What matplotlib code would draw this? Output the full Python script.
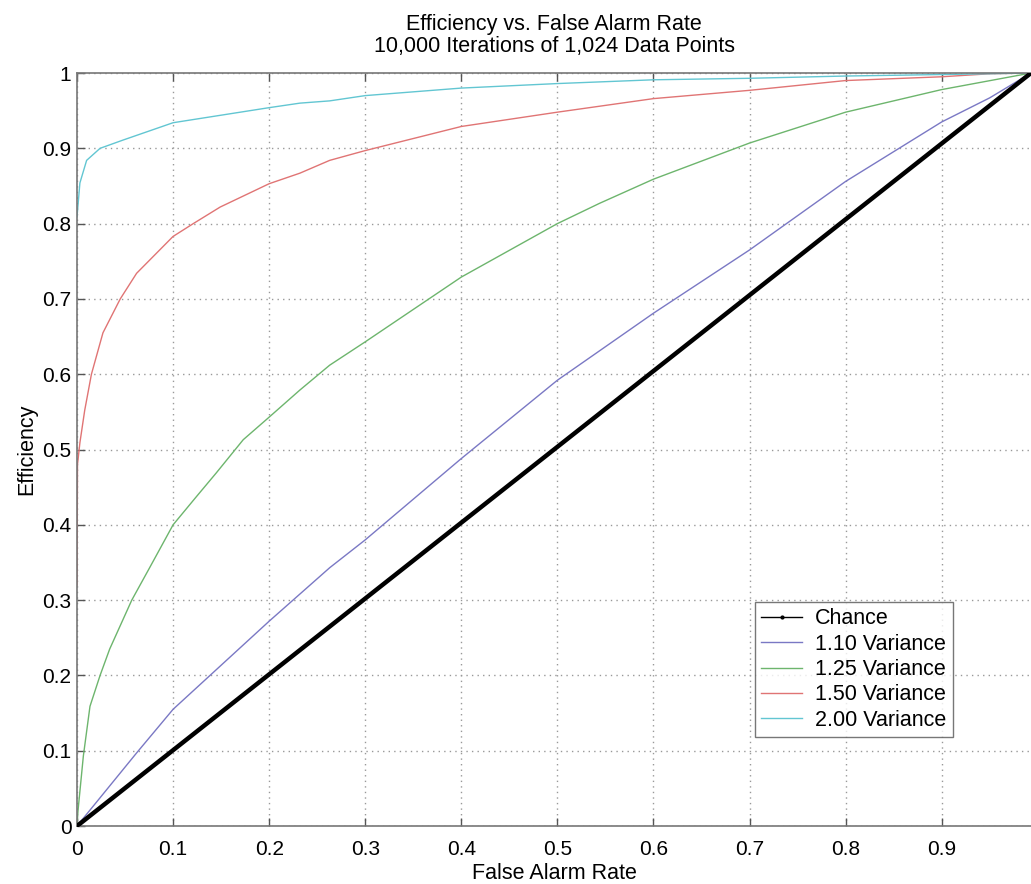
import matplotlib
matplotlib.use("Agg")
import matplotlib.pyplot as plt

# Values (curves end at the visible right edge)
chance_x = [0.0, 0.993]
chance_y = [0.0, 1.0]

v110_x = [0.0, 0.062, 0.1, 0.2, 0.263, 0.3, 0.4, 0.5, 0.6, 0.7, 0.8, 0.9, 0.95, 0.993]
v110_y = [0.0, 0.097, 0.155, 0.272, 0.343, 0.380, 0.488, 0.592, 0.681, 0.765, 0.856, 0.935, 0.967, 1.0]

v125_x = [0.0, 0.001, 0.0066, 0.0135, 0.024, 0.034, 0.057, 0.076, 0.1, 0.124, 0.145,
          0.173, 0.2, 0.232, 0.263, 0.3, 0.4, 0.5, 0.544, 0.6, 0.7, 0.8, 0.9, 0.993]
v125_y = [0.0, 0.02, 0.093, 0.159, 0.20, 0.235, 0.30, 0.344, 0.40, 0.437, 0.469,
          0.513, 0.543, 0.579, 0.612, 0.643, 0.729, 0.80, 0.827, 0.859, 0.907, 0.948, 0.978, 1.0]

v150_x = [0.0, 0.0005, 0.003, 0.008, 0.015, 0.027, 0.045, 0.062, 0.1, 0.121, 0.149,
          0.2, 0.232, 0.263, 0.3, 0.4, 0.5, 0.6, 0.7, 0.8, 0.9, 0.95, 0.993]
v150_y = [0.32, 0.48, 0.509, 0.552, 0.60, 0.655, 0.70, 0.734, 0.783, 0.80, 0.822,
          0.853, 0.867, 0.884, 0.897, 0.929, 0.948, 0.966, 0.977, 0.990, 0.995, 0.999, 1.0]

v200_x = [0.0, 0.003, 0.01, 0.024, 0.048, 0.1, 0.2, 0.232, 0.263, 0.3, 0.4, 0.5, 0.6,
          0.7, 0.8, 0.9, 0.993]
v200_y = [0.809, 0.854, 0.884, 0.90, 0.911, 0.934, 0.954, 0.960, 0.963, 0.970, 0.980,
          0.986, 0.991, 0.993, 0.996, 0.998, 1.0]

x_ticks = [0, 0.1, 0.2, 0.3, 0.4, 0.5, 0.6, 0.7, 0.8, 0.9]
x_tick_labels = ["0", "0.1", "0.2", "0.3", "0.4", "0.5", "0.6", "0.7", "0.8", "0.9"]
y_ticks = [0, 0.1, 0.2, 0.3, 0.4, 0.5, 0.6, 0.7, 0.8, 0.9, 1.0]
y_tick_labels = ["0", "0.1", "0.2", "0.3", "0.4", "0.5", "0.6", "0.7", "0.8", "0.9", "1"]

plt.rcParams["font.family"] = ["Liberation Sans", "DejaVu Sans"]

fig = plt.figure(figsize=(10.31, 8.84), dpi=100)
ax = fig.add_axes([0.0747, 0.0656, 1.0 - 0.0747, 0.8518])

ax.plot(chance_x, chance_y, color="black", linewidth=3.2, marker=".",
        markersize=4, label="Chance", zorder=5)
ax.plot(v110_x, v110_y, color="#7a78c4", linewidth=1.0, label="1.10 Variance")
ax.plot(v125_x, v125_y, color="#6db56d", linewidth=1.0, label="1.25 Variance")
ax.plot(v150_x, v150_y, color="#e07474", linewidth=1.0, label="1.50 Variance")
ax.plot(v200_x, v200_y, color="#62c6d2", linewidth=1.0, label="2.00 Variance")

ax.set_xlim(0, 0.993)
ax.set_ylim(0, 1)
ax.set_xticks(x_ticks)
ax.set_xticklabels(x_tick_labels)
ax.set_yticks(y_ticks)
ax.set_yticklabels(y_tick_labels)
ax.tick_params(direction="in", length=6, width=1, color="#555555",
               labelsize=15, top=True, pad=4)
ax.tick_params(axis="x", pad=10)
ax.grid(True, linestyle=(0, (1, 3)), color="#999999", linewidth=1.0)
for name, spine in ax.spines.items():
    spine.set_color("#777777")
    spine.set_linewidth(1.2)
ax.spines["right"].set_visible(False)

ax.set_xlabel("False Alarm Rate", fontsize=15.5, labelpad=3)
ax.set_ylabel("Efficiency", fontsize=15.5, labelpad=4)
ax.set_title("Efficiency vs. False Alarm Rate\n10,000 Iterations of 1,024 Data Points",
             fontsize=15.5, pad=15, linespacing=1.05)

leg = ax.legend(loc="lower right", bbox_to_anchor=(0.918, 0.118), fontsize=15.5,
                frameon=True, fancybox=False, edgecolor="#555555",
                handlelength=1.9, borderpad=0.3, labelspacing=0.2,
                handletextpad=0.6, borderaxespad=0.0)
leg.get_frame().set_linewidth(1.0)
leg.legend_handles[0].set_linewidth(1.0)

fig.savefig("out.png", dpi=100)
